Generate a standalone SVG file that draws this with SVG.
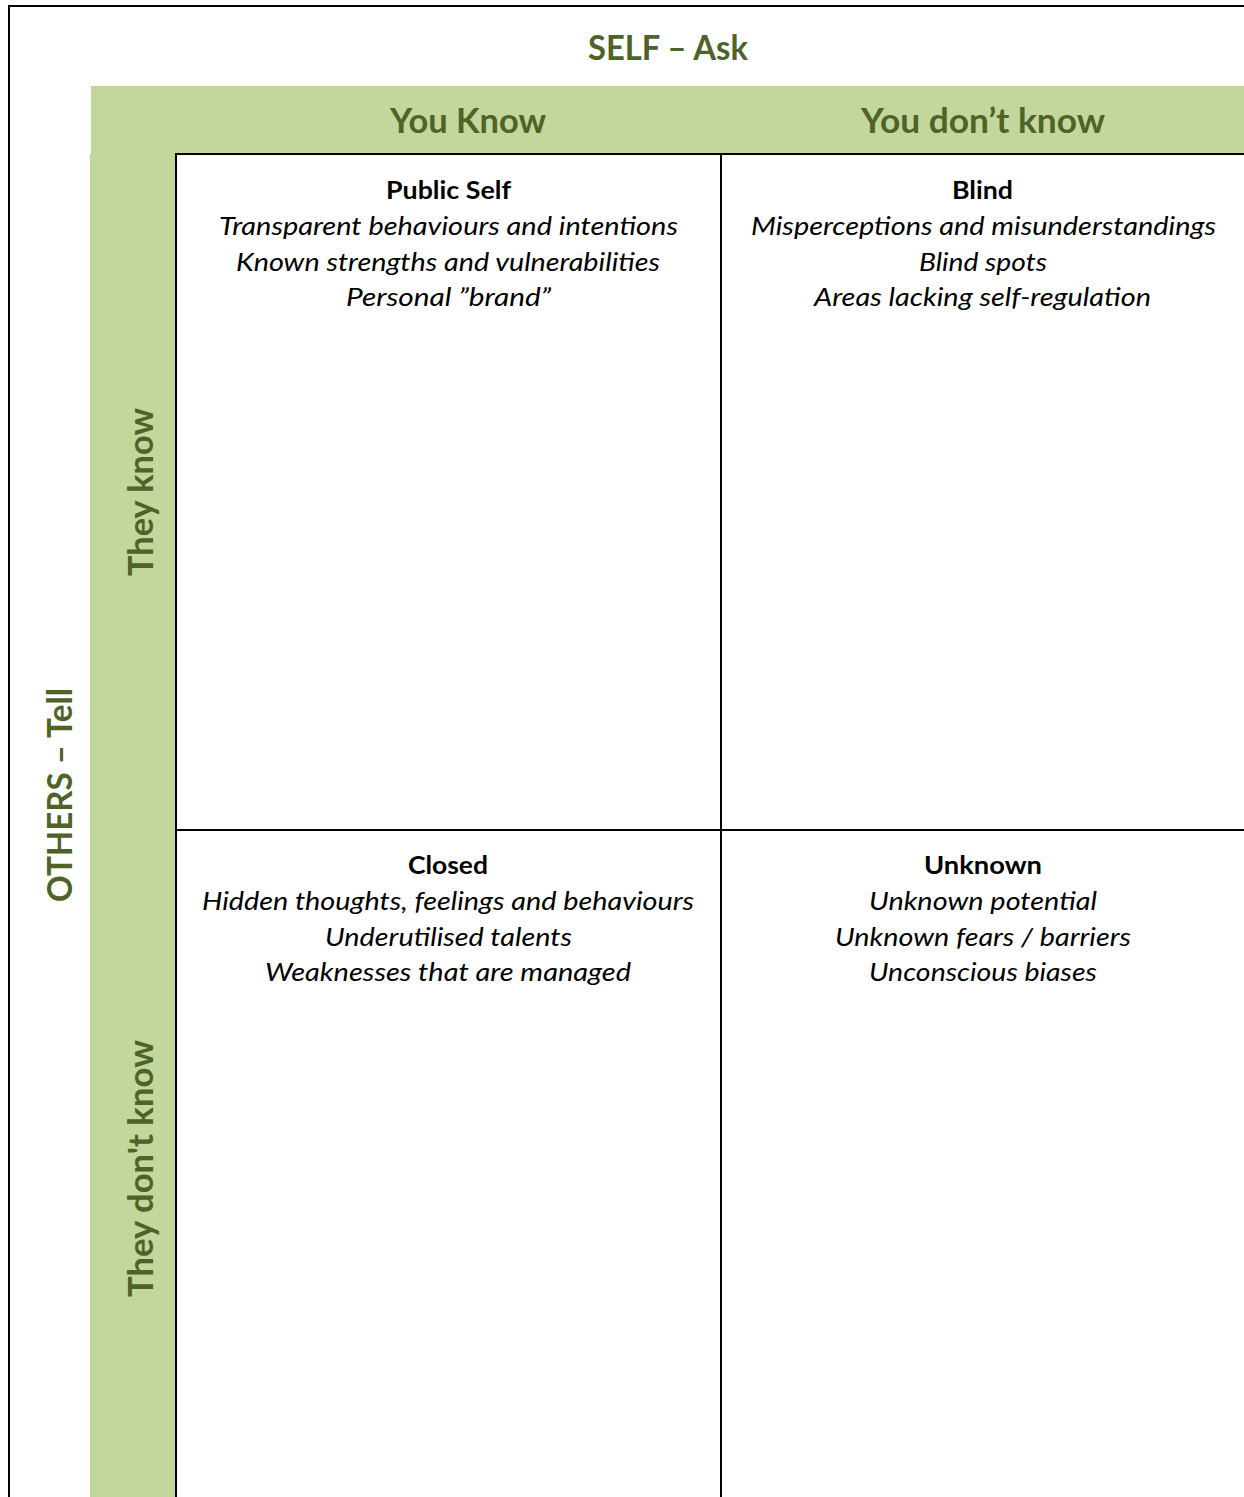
<svg xmlns="http://www.w3.org/2000/svg" width="1244" height="1497" viewBox="0 0 1244 1497">
  <style>
    .band { fill: #C3D69B; }
    .rule { stroke: #000; stroke-width: 2; fill: none; }
    .axis { font-family: Lato, "Open Sans", "Liberation Sans", sans-serif; font-weight: bold; font-size: 34px; fill: #4F6228; text-anchor: middle; }
    .title { font-family: Lato, "Open Sans", "Liberation Sans", sans-serif; font-weight: bold; font-size: 25px; fill: #000; text-anchor: middle; }
    .item { font-family: Lato, "Open Sans", "Liberation Sans", sans-serif; font-style: italic; font-size: 25px; fill: #000; text-anchor: middle; }
  </style>

  <rect width="1244" height="1497" fill="#fff"/>

  <!-- green header bands -->
  <g id="bands">
    <rect class="band" x="91" y="86" width="1153" height="68"/>
    <rect class="band" x="90" y="154" width="86" height="1343"/>
  </g>

  <!-- table rules -->
  <g id="grid">
    <path class="rule" d="M8 6 H1244 M9 5 V1497"/>
    <path class="rule" d="M175 154 H1244 M176 153 V1497"/>
    <path class="rule" d="M176 830 H1244 M721 154 V1497"/>
  </g>

  <!-- axis labels -->
  <g id="self-axis">
    <text class="axis" x="668" y="60" textLength="160" lengthAdjust="spacingAndGlyphs">SELF – Ask</text>
    <text class="axis" x="468" y="133" textLength="156" lengthAdjust="spacingAndGlyphs">You Know</text>
    <text class="axis" x="983" y="133" textLength="244" lengthAdjust="spacingAndGlyphs">You don’t know</text>
  </g>
  <g id="others-axis">
    <text class="axis" transform="translate(72 795) rotate(-90)" textLength="214" lengthAdjust="spacingAndGlyphs">OTHERS – Tell</text>
    <text class="axis" transform="translate(153 492) rotate(-90)" textLength="168" lengthAdjust="spacingAndGlyphs">They know</text>
    <text class="axis" transform="translate(153 1168.5) rotate(-90)" textLength="257" lengthAdjust="spacingAndGlyphs">They don't know</text>
  </g>

  <!-- quadrants -->
  <g id="public-self">
    <text class="title" x="448.5" y="199" textLength="125" lengthAdjust="spacingAndGlyphs">Public Self</text>
    <text class="item" x="448.5" y="235" textLength="459" lengthAdjust="spacingAndGlyphs">Transparent behaviours and intentions</text>
    <text class="item" x="448" y="271" textLength="424" lengthAdjust="spacingAndGlyphs">Known strengths and vulnerabilities</text>
    <text class="item" x="448.5" y="306" textLength="205" lengthAdjust="spacingAndGlyphs">Personal ”brand”</text>
  </g>
  <g id="blind">
    <text class="title" x="982.5" y="199" textLength="61" lengthAdjust="spacingAndGlyphs">Blind</text>
    <text class="item" x="983.5" y="235" textLength="465" lengthAdjust="spacingAndGlyphs">Misperceptions and misunderstandings</text>
    <text class="item" x="983" y="271" textLength="128" lengthAdjust="spacingAndGlyphs">Blind spots</text>
    <text class="item" x="982.5" y="306" textLength="337" lengthAdjust="spacingAndGlyphs">Areas lacking self-regulation</text>
  </g>
  <g id="closed">
    <text class="title" x="448" y="874" textLength="80" lengthAdjust="spacingAndGlyphs">Closed</text>
    <text class="item" x="448" y="910" textLength="492" lengthAdjust="spacingAndGlyphs">Hidden thoughts, feelings and behaviours</text>
    <text class="item" x="448.5" y="946" textLength="247" lengthAdjust="spacingAndGlyphs">Underutilised talents</text>
    <text class="item" x="448" y="981" textLength="366" lengthAdjust="spacingAndGlyphs">Weaknesses that are managed</text>
  </g>
  <g id="unknown">
    <text class="title" x="983" y="874" textLength="118" lengthAdjust="spacingAndGlyphs">Unknown</text>
    <text class="item" x="983" y="910" textLength="228" lengthAdjust="spacingAndGlyphs">Unknown potential</text>
    <text class="item" x="983" y="946" textLength="296" lengthAdjust="spacingAndGlyphs">Unknown fears / barriers</text>
    <text class="item" x="983" y="981" textLength="228" lengthAdjust="spacingAndGlyphs">Unconscious biases</text>
  </g>
</svg>
